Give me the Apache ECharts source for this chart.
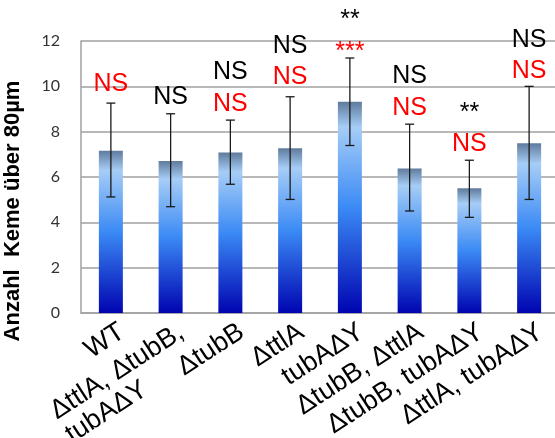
<!DOCTYPE html>
<html>
<head>
<meta charset="utf-8">
<script src="https://cdn.jsdelivr.net/npm/echarts@6/dist/echarts.min.js"></script>
<style>
html, body { margin: 0; padding: 0; background: #fff; }
#main { width: 555px; height: 438px; }
</style>
</head>
<body>
<div id="main"></div>
<script>
// Kategorien und Werte
var categories = ['WT', 'ΔttlA, ΔtubB,\ntubAΔY', 'ΔtubB', 'ΔttlA', 'tubAΔY', 'ΔtubB, ΔttlA', 'ΔtubB, tubAΔY', 'ΔttlA, tubAΔY'];
var means = [7.16, 6.71, 7.08, 7.27, 9.32, 6.38, 5.50, 7.49];
var errLow = [5.12, 4.69, 5.68, 5.01, 7.39, 4.50, 4.22, 5.01];
var errHigh = [9.26, 8.79, 8.51, 9.54, 11.25, 8.33, 6.74, 10.00];

// Signifikanz-Beschriftungen (schwarz / rot)
var blackMarks = ['', 'NS', 'NS', 'NS', '**', 'NS', '**', 'NS'];
var blackMarkY = [null, 9.51, 10.61, 11.79, 12.92, 10.44, 8.84, 12.06];
var redMarks = ['NS', '', 'NS', 'NS', '***', 'NS', 'NS', 'NS'];
var redMarkY = [10.11, null, 9.23, 10.41, 11.52, 9.04, 7.46, 10.66];

var FONT = '"Liberation Sans", Arial, sans-serif';
var chart = echarts.init(document.getElementById('main'));

// Breite der ersten Zeile für linksbündige Mehrzeilen-Beschriftung
var ctx = document.createElement('canvas').getContext('2d');
ctx.font = '27px "Liberation Sans"';
function lineWidth(s) { return Math.ceil(ctx.measureText(s).width); }

function markData(marks, ys) {
    var out = [];
    for (var i = 0; i < marks.length; i++) {
        if (marks[i]) out.push({ value: [i, ys[i]], name: marks[i] });
    }
    return out;
}

var errData = [];
for (var i = 0; i < means.length; i++) errData.push([i, errLow[i], errHigh[i]]);

var richM = { width: 0, align: 'left', fontSize: 27, lineHeight: 28, fontFamily: FONT, color: '#000' };
categories.forEach(function (c) {
    if (c.indexOf('\n') >= 0) richM.width = Math.max(richM.width, lineWidth(c.split('\n')[0]));
});

var option = {
    animation: false,
    grid: { left: 81, right: -4, top: 41, bottom: 125, containLabel: false, outerBoundsMode: 'none' },
    xAxis: {
        type: 'category',
        data: categories,
        axisLine: { lineStyle: { color: '#a0a0a0', width: 1.5 } },
        axisTick: { show: false },
        axisLabel: {
            interval: 0,
            rotate: 33,
            margin: -1,
            padding: [42, 0, 0, 0],
            fontSize: 27,
            lineHeight: 28,
            fontFamily: FONT,
            color: '#000',
            formatter: function (v) {
                if (v.indexOf('\n') < 0) return v;
                var p = v.split('\n');
                return '{m| }\n{m|' + p[0] + '}\n{m|' + p[1] + '}';
            },
            rich: { m: richM }
        }
    },
    yAxis: {
        type: 'value',
        min: 0,
        max: 12,
        interval: 2,
        name: 'Anzahl  Keme über 80µm',
        nameLocation: 'middle',
        nameRotate: 90,
        nameGap: 57,
        nameTextStyle: { fontSize: 22, fontWeight: 'bold', fontFamily: FONT, color: '#000', padding: [0, 68, 0, 0] },
        axisLine: { show: true, lineStyle: { color: '#a0a0a0', width: 1.5 } },
        axisTick: { show: false },
        splitLine: { lineStyle: { color: '#a0a0a0', width: 1.5 } },
        axisLabel: { fontSize: 16, fontFamily: 'Lato', color: '#333', margin: 21 }
    },
    series: [
        {
            type: 'bar',
            data: means,
            barWidth: 24,
            itemStyle: {
                color: new echarts.graphic.LinearGradient(0, 0, 0, 1, [
                    { offset: 0, color: '#5f7b9c' },
                    { offset: 0.12, color: '#a6cdf6' },
                    { offset: 0.5, color: '#3b8af5' },
                    { offset: 1, color: '#0004b0' }
                ])
            }
        },
        {
            type: 'custom',
            data: errData,
            z: 5,
            renderItem: function (params, api) {
                var x = api.value(0);
                var lo = api.coord([x, api.value(1)]);
                var hi = api.coord([x, api.value(2)]);
                var hw = 4.5;
                var st = { stroke: '#1a1a1a', lineWidth: 1.3 };
                return {
                    type: 'group',
                    children: [
                        { type: 'line', shape: { x1: lo[0], y1: lo[1], x2: hi[0], y2: hi[1] }, style: st },
                        { type: 'line', shape: { x1: lo[0] - hw, y1: lo[1], x2: lo[0] + hw, y2: lo[1] }, style: st },
                        { type: 'line', shape: { x1: hi[0] - hw, y1: hi[1], x2: hi[0] + hw, y2: hi[1] }, style: st }
                    ]
                };
            }
        },
        {
            type: 'scatter',
            data: markData(blackMarks, blackMarkY),
            symbolSize: 0,
            clip: false,
            z: 6,
            itemStyle: { opacity: 1 },
            label: { show: true, position: 'inside', formatter: '{b}', fontSize: 25, fontFamily: FONT, color: '#000', opacity: 1 }
        },
        {
            type: 'scatter',
            data: markData(redMarks, redMarkY),
            symbolSize: 0,
            clip: false,
            z: 6,
            itemStyle: { opacity: 1 },
            label: { show: true, position: 'inside', formatter: '{b}', fontSize: 25, fontFamily: FONT, color: '#ff0000', opacity: 1 }
        }
    ]
};
chart.setOption(option);
</script>
</body>
</html>
